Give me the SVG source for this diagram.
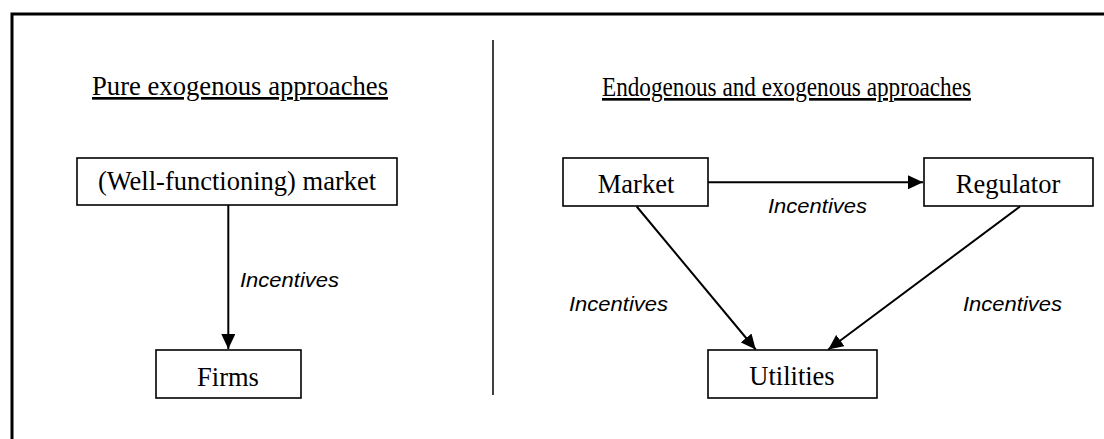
<svg xmlns="http://www.w3.org/2000/svg" width="1104" height="439" viewBox="0 0 1104 439">
<style>
.frame{fill:none;stroke:#000;stroke-width:3}
.box{fill:#fff;stroke:#000;stroke-width:1.6}
.lbl{font-family:"Liberation Serif","Times New Roman",serif;font-size:26.5px;fill:#000;text-anchor:middle}
.title{font-family:"Liberation Serif","Times New Roman",serif;font-size:26.6px;fill:#000;text-decoration:underline}
.inc{font-family:"Liberation Sans",Arial,sans-serif;font-size:21px;font-style:italic;fill:#000}
.conn{stroke:#000;stroke-width:2;fill:none;marker-end:url(#ah)}
</style>
<defs>
<marker id="ah" markerUnits="userSpaceOnUse" markerWidth="16" markerHeight="14" refX="15" refY="7" orient="auto">
<path d="M0,0 L15,7 L0,14 Z" fill="#000"/>
</marker>
</defs>
<rect width="1104" height="439" fill="#fff"/>
<g id="frame">
<path class="frame" d="M12,439 L12,14 L1104,14"/>
<line x1="493" y1="40" x2="493" y2="395" stroke="#000" stroke-width="1.5"/>
</g>
<g id="titles">
<text class="title" x="92" y="95" textLength="296" lengthAdjust="spacingAndGlyphs">Pure exogenous approaches</text>
<text class="title" x="602" y="96" textLength="369" lengthAdjust="spacingAndGlyphs">Endogenous and exogenous approaches</text>
</g>
<g id="node-wf-market">
<rect class="box" x="77" y="158" width="320" height="47"/>
<text class="lbl" x="237" y="190">(Well-functioning) market</text>
</g>
<g id="node-firms">
<rect class="box" x="156" y="350" width="145" height="48"/>
<text class="lbl" x="228" y="386">Firms</text>
</g>
<g id="node-market">
<rect class="box" x="563" y="158" width="145" height="48"/>
<text class="lbl" x="636" y="193">Market</text>
</g>
<g id="node-regulator">
<rect class="box" x="924" y="158" width="169" height="48"/>
<text class="lbl" x="1008" y="193">Regulator</text>
</g>
<g id="node-utilities">
<rect class="box" x="708" y="350" width="169" height="48"/>
<text class="lbl" x="792" y="385">Utilities</text>
</g>
<g id="connectors">
<line class="conn" x1="228.3" y1="205" x2="228.3" y2="349"/>
<line class="conn" x1="708" y1="182.3" x2="923" y2="182.3"/>
<line class="conn" x1="636.7" y1="206.5" x2="755.7" y2="349.5"/>
<line class="conn" x1="1020" y1="206.5" x2="828.3" y2="349.5"/>
</g>
<g id="labels">
<text class="inc" x="240" y="287" textLength="99" lengthAdjust="spacingAndGlyphs">Incentives</text>
<text class="inc" x="768" y="213" textLength="99" lengthAdjust="spacingAndGlyphs">Incentives</text>
<text class="inc" x="569" y="311" textLength="99" lengthAdjust="spacingAndGlyphs">Incentives</text>
<text class="inc" x="963" y="311" textLength="99" lengthAdjust="spacingAndGlyphs">Incentives</text>
</g>
</svg>
